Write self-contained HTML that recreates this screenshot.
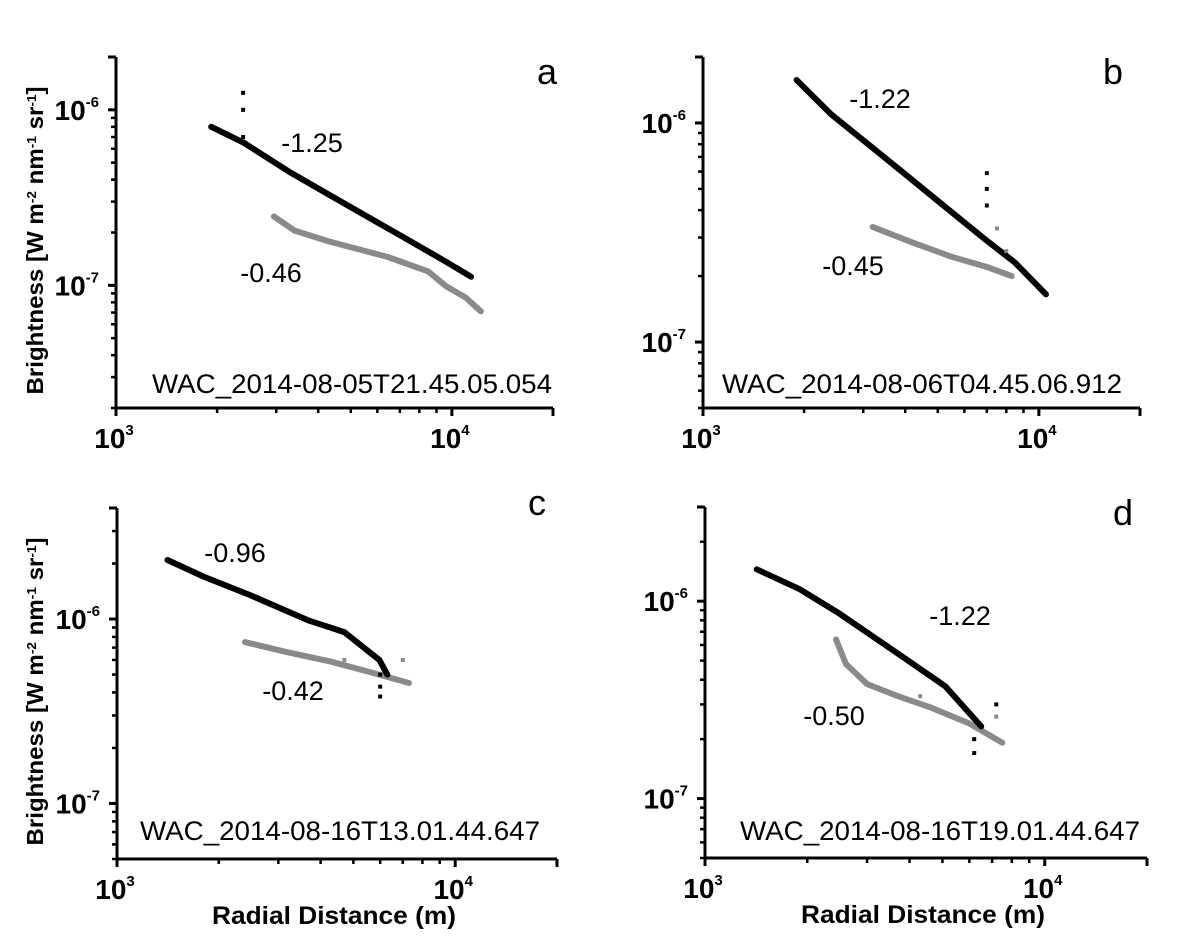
<!DOCTYPE html>
<html><head><meta charset="utf-8"><style>
html,body{margin:0;padding:0;background:#fff;}
svg{display:block;font-family:"Liberation Sans",Arial,sans-serif;}
</style></head><body>
<svg id="fig" width="1200" height="937" viewBox="0 0 1200 937" xmlns="http://www.w3.org/2000/svg"></svg>
<script>
// ---- data (radial distance m, brightness W m-2 nm-1 sr-1) ----
const aBlackX = [1920, 2400, 3300, 4930, 7000, 9500, 11400];
const aBlackY = [8.0e-7, 6.5e-7, 4.4e-7, 2.83e-7, 1.93e-7, 1.38e-7, 1.12e-7];
const aGrayX = [2950, 3400, 4300, 6450, 8500, 9600, 11000, 12200];
const aGrayY = [2.47e-7, 2.05e-7, 1.78e-7, 1.45e-7, 1.2e-7, 0.99e-7, 0.85e-7, 7.1e-8];
const aOutX = [2390, 2390, 2390];
const aOutY = [1.25e-6, 1.0e-6, 7.0e-7];

const bBlackX = [1900, 2400, 3860, 5200, 6900, 8500, 10500];
const bBlackY = [1.57e-6, 1.1e-6, 6.1e-7, 4.2e-7, 2.95e-7, 2.3e-7, 1.65e-7];
const bGrayX = [3200, 4200, 5500, 7000, 8300];
const bGrayY = [3.35e-7, 2.85e-7, 2.45e-7, 2.2e-7, 2.0e-7];
const bOutX = [7000, 7000, 7000, 7500, 8000];
const bOutY = [5.9e-7, 5.0e-7, 4.2e-7, 3.3e-7, 2.6e-7];

const cBlackX = [1410, 1800, 2470, 3700, 4700, 5970, 6300];
const cBlackY = [2.09e-6, 1.7e-6, 1.35e-6, 0.98e-6, 8.5e-7, 6.0e-7, 5.0e-7];
const cGrayX = [2390, 3200, 4250, 5500, 7300];
const cGrayY = [7.5e-7, 6.6e-7, 5.9e-7, 5.2e-7, 4.5e-7];
const cOutX = [6000, 6000, 6000, 7000, 4700];
const cOutY = [5.0e-7, 4.3e-7, 3.8e-7, 6.0e-7, 6.0e-7];

const dBlackX = [1420, 1900, 2500, 3800, 5100, 6500];
const dBlackY = [1.45e-6, 1.15e-6, 8.6e-7, 5.25e-7, 3.7e-7, 2.32e-7];
const dGrayX = [2430, 2600, 3000, 3700, 4600, 6000, 7500];
const dGrayY = [6.4e-7, 4.8e-7, 3.8e-7, 3.3e-7, 2.9e-7, 2.4e-7, 1.92e-7];
const dOutX = [6200, 6200, 7200, 7200, 4300];
const dOutY = [2.0e-7, 1.7e-7, 3.0e-7, 2.6e-7, 3.3e-7];

const slopeLabels = ["-1.25", "-0.46", "-1.22", "-0.45", "-0.96", "-0.42", "-1.22", "-0.50"];
const imageNames = ["WAC_2014-08-05T21.45.05.054", "WAC_2014-08-06T04.45.06.912", "WAC_2014-08-16T13.01.44.647", "WAC_2014-08-16T19.01.44.647"];
const panelLetters = ["a", "b", "c", "d"];

const NS = "http://www.w3.org/2000/svg";
const svg = document.getElementById("fig");
function mk(tag, attrs, parent) {
  const e = document.createElementNS(NS, tag);
  for (const k in attrs) e.setAttribute(k, attrs[k]);
  (parent || svg).appendChild(e);
  return e;
}

const panels = [
  {id:"a", x0:116, x1:553, yTop:57, yBot:408, ymin:2e-8, ymax:2e-6, bx:aBlackX, by:aBlackY, gx:aGrayX, gy:aGrayY, ox:aOutX, oy:aOutY,
   l1:[312,142], l2:[271,272], let:[547,72], wac:[352,383], ylabel:true, xlabel:false},
  {id:"b", x0:703, x1:1140, yTop:57, yBot:408, ymin:5e-8, ymax:2e-6, bx:bBlackX, by:bBlackY, gx:bGrayX, gy:bGrayY, ox:bOutX, oy:bOutY,
   l1:[880,98], l2:[853,265], let:[1113,72], wac:[922,383], ylabel:false, xlabel:false},
  {id:"c", x0:117, x1:557, yTop:508, yBot:859, ymin:5e-8, ymax:4e-6, bx:cBlackX, by:cBlackY, gx:cGrayX, gy:cGrayY, ox:cOutX, oy:cOutY,
   l1:[235,552], l2:[293,690], let:[537,503], wac:[340,830], ylabel:true, xlabel:true},
  {id:"d", x0:705, x1:1147, yTop:507, yBot:858, ymin:5e-8, ymax:3e-6, bx:dBlackX, by:dBlackY, gx:dGrayX, gy:dGrayY, ox:dOutX, oy:dOutY,
   l1:[960,615], l2:[834,715], let:[1123,513], wac:[940,830], ylabel:false, xlabel:true}
];

panels.forEach((p, pi) => {
  const g = mk("g", {});
  
  
  const lx0 = 3, lx1 = Math.log10(2e4);
  const X = v => p.x0 + (Math.log10(v) - lx0) / (lx1 - lx0) * (p.x1 - p.x0);
  const ly0 = Math.log10(p.ymin), ly1 = Math.log10(p.ymax);
  const Y = v => p.yBot - (Math.log10(v) - ly0) / (ly1 - ly0) * (p.yBot - p.yTop);

  const ax = mk("path", {d:`M${p.x0},${p.yTop}V${p.yBot}H${p.x1}`, stroke:"#000", "stroke-width":3, fill:"none"}, g);
  
  
  for (let dec = 3; dec <= 4; dec++) {
    for (let m = 1; m <= 9; m++) {
      const v = m * Math.pow(10, dec);
      if (v > 2e4) break;
      const x = X(v);
      const major = (m === 1);
      mk("line", {x1:x, y1:p.yBot, x2:x, y2:p.yBot + (major ? 8 : 5), stroke:"#000", "stroke-width":major?3:2.5}, g);
    }
  }
  mk("line", {x1:p.x1, y1:p.yBot, x2:p.x1, y2:p.yBot + 8, stroke:"#000", "stroke-width":3}, g);
  [3, 4].forEach(d => {
    const t = mk("text", {x:X(Math.pow(10, d)) - 2, y:p.yBot + 40, "font-size":28, "font-weight":"bold", "text-anchor":"middle"}, g);
    
    
    t.textContent = "10";
    const s = mk("tspan", {"font-size":15, dy:-13}, t);
    s.textContent = String(d);
  });
  for (let dec = -9; dec <= -5; dec++) {
    for (let m = 1; m <= 9; m++) {
      const v = m * Math.pow(10, dec);
      if (v < p.ymin * 0.999 || v > p.ymax * 1.001) continue;
      const y = Y(v);
      const major = (m === 1);
      mk("line", {x1:p.x0, y1:y, x2:p.x0 - (major ? 8 : 5), y2:y, stroke:"#000", "stroke-width":major?3:2.5}, g);
      if (major) {
        const t = mk("text", {x:p.x0 - 17, y:y + 10, "font-size":28, "font-weight":"bold", "text-anchor":"end"}, g);
        
        
        t.textContent = "10";
        const s = mk("tspan", {"font-size":15, dy:-13}, t);
        s.textContent = String(dec);
      }
    }
  }
  mk("line", {x1:p.x0, y1:p.yTop, x2:p.x0 - 8, y2:p.yTop, stroke:"#000", "stroke-width":3}, g);

  function series(xs, ys, color, name) {
    const pts = xs.map((v, i) => X(v).toFixed(1) + "," + Y(ys[i]).toFixed(1)).join(" ");
    const pl = mk("polyline", {points:pts, fill:"none", stroke:color, "stroke-width":6, "stroke-linejoin":"round", "stroke-linecap":"round"}, g);
    
    
  }
  series(p.gx, p.gy, "#8a8a8a", "gray-profile-" + p.id);
  series(p.bx, p.by, "#000", "black-profile-" + p.id);
  p.ox.forEach((v, i) => {
    const r = mk("rect", {x:X(v) - 2, y:Y(p.oy[i]) - 2, width:4, height:4, fill: i >= 3 && p.id !== "a" ? "#8a8a8a" : "#000"}, g);
    
    
  });

  const t1 = mk("text", {x:p.l1[0], y:p.l1[1] + 10, "font-size":27, "text-anchor":"middle"}, g);
  
  
  t1.textContent = slopeLabels[pi * 2];
  const t2 = mk("text", {x:p.l2[0], y:p.l2[1] + 10, "font-size":27, "text-anchor":"middle"}, g);
  
  
  t2.textContent = slopeLabels[pi * 2 + 1];
  const tl = mk("text", {x:p.let[0], y:p.let[1] + 12, "font-size":36, "text-anchor":"middle"}, g);
  
  
  tl.textContent = panelLetters[pi];
  const tw = mk("text", {x:p.wac[0], y:p.wac[1] + 10, "font-size":27, "text-anchor":"middle", textLength:400, lengthAdjust:"spacingAndGlyphs"}, g);
  
  
  tw.textContent = imageNames[pi];

  if (p.ylabel) {
    const cy = (p.yTop + p.yBot) / 2 + 8;
    const yl = mk("text", {x:0, y:0, "font-size":23, "font-weight":"bold", "text-anchor":"middle", transform:`translate(43,${cy}) rotate(-90)`, textLength:308, lengthAdjust:"spacingAndGlyphs"}, g);
    
    
    const parts = [["Brightness [W m",0],["-2",1],[" nm",0],["-1",1],[" sr",0],["-1",1],["]",0]];
    parts.forEach(([s, sup]) => {
      const ts = mk("tspan", sup ? {"font-size":13, "baseline-shift":"super"} : {}, yl);
      ts.textContent = s;
    });
  }
  if (p.xlabel) {
    const xl = mk("text", {x:(p.x0 + p.x1) / 2 - 3, y:p.yBot + 65, "font-size":25, "font-weight":"bold", "text-anchor":"middle", textLength:244, lengthAdjust:"spacingAndGlyphs"}, g);
    
    
    xl.textContent = "Radial Distance (m)";
  }
});
</script>
</body></html>
